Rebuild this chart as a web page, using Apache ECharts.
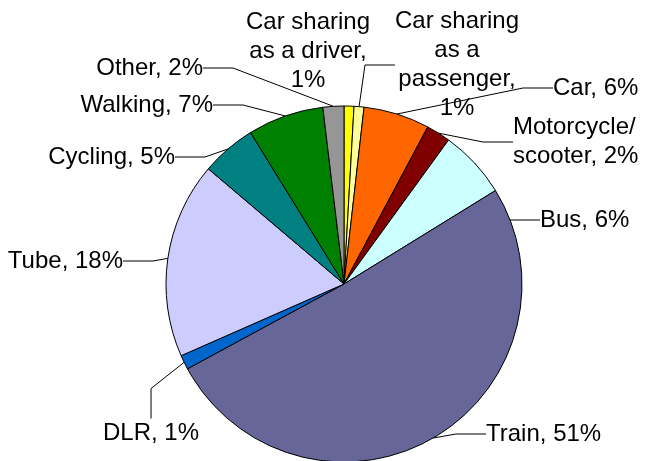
<html>
<head>
<meta charset="utf-8">
<script src="https://cdn.jsdelivr.net/npm/echarts@6/dist/echarts.min.js"></script>
<style>
html, body { margin: 0; padding: 0; background: #fff; }
#main { width: 645px; height: 461px; }
</style>
</head>
<body>
<div id="main"></div>
<script>
var modes = ['Car sharing as a driver', 'Car sharing as a passenger', 'Car', 'Motorcycle/scooter', 'Bus',
    'Train', 'DLR', 'Tube', 'Cycling', 'Walking', 'Other'];
var shares = [0.9, 0.9, 6.0, 2.2, 6.2, 50.9, 1.3, 17.8, 5.0, 6.9, 1.9];
// label text, {p} is replaced with the rounded percentage
var labelTexts = ['Car sharing\nas a driver,\n{p}%', 'Car sharing\nas a\npassenger,\n{p}%', 'Car, {p}%',
    'Motorcycle/\nscooter, {p}%', 'Bus, {p}%', 'Train, {p}%', 'DLR, {p}%', 'Tube, {p}%',
    'Cycling, {p}%', 'Walking, {p}%', 'Other, {p}%'];
var colors = ['#FFFF00', '#FFFF99', '#FF6600', '#800000', '#CCFFFF', '#666699', '#0066CC',
    '#CCCCFF', '#008080', '#008000', '#969696'];

// where each label sits: [x, y, align]
var labelPos = [
    [308, 51, 'center'], [457, 65, 'center'], [553, 88, 'left'], [513, 142, 'left'],
    [540, 220, 'left'], [486, 434, 'left'], [103, 433, 'left'], [123, 261, 'right'],
    [175, 157, 'right'], [213, 105, 'right'], [203, 68, 'right']
];

var myChart = echarts.init(document.getElementById('main'));

var data = modes.map(function (m, i) {
    var d = {name: m, value: shares[i], itemStyle: {color: colors[i]}};
    if (i === 0) d.labelLine = {show: false};
    return d;
});

myChart.setOption({
    backgroundColor: '#fff',
    animation: false,
    series: [{
        type: 'pie',
        center: [344, 284],
        radius: 178,
        startAngle: 90,
        clockwise: true,
        data: data,
        itemStyle: {borderColor: '#000', borderWidth: 1},
        label: {
            show: true,
            position: 'outside',
            overflow: 'none',
            fontFamily: 'Liberation Sans, Arial, sans-serif',
            fontSize: 24,
            lineHeight: 29,
            color: '#000',
            formatter: function (p) {
                return labelTexts[p.dataIndex].replace('{p}', Math.round(p.percent));
            }
        },
        labelLine: {
            show: true,
            lineStyle: {color: '#000', width: 1}
        },
        labelLayout: function (params) {
            var pos = labelPos[params.dataIndex];
            return {
                x: pos[0],
                y: pos[1],
                align: pos[2],
                verticalAlign: 'middle'
            };
        },
        emphasis: {disabled: true}
    }]
});
</script>
</body>
</html>
